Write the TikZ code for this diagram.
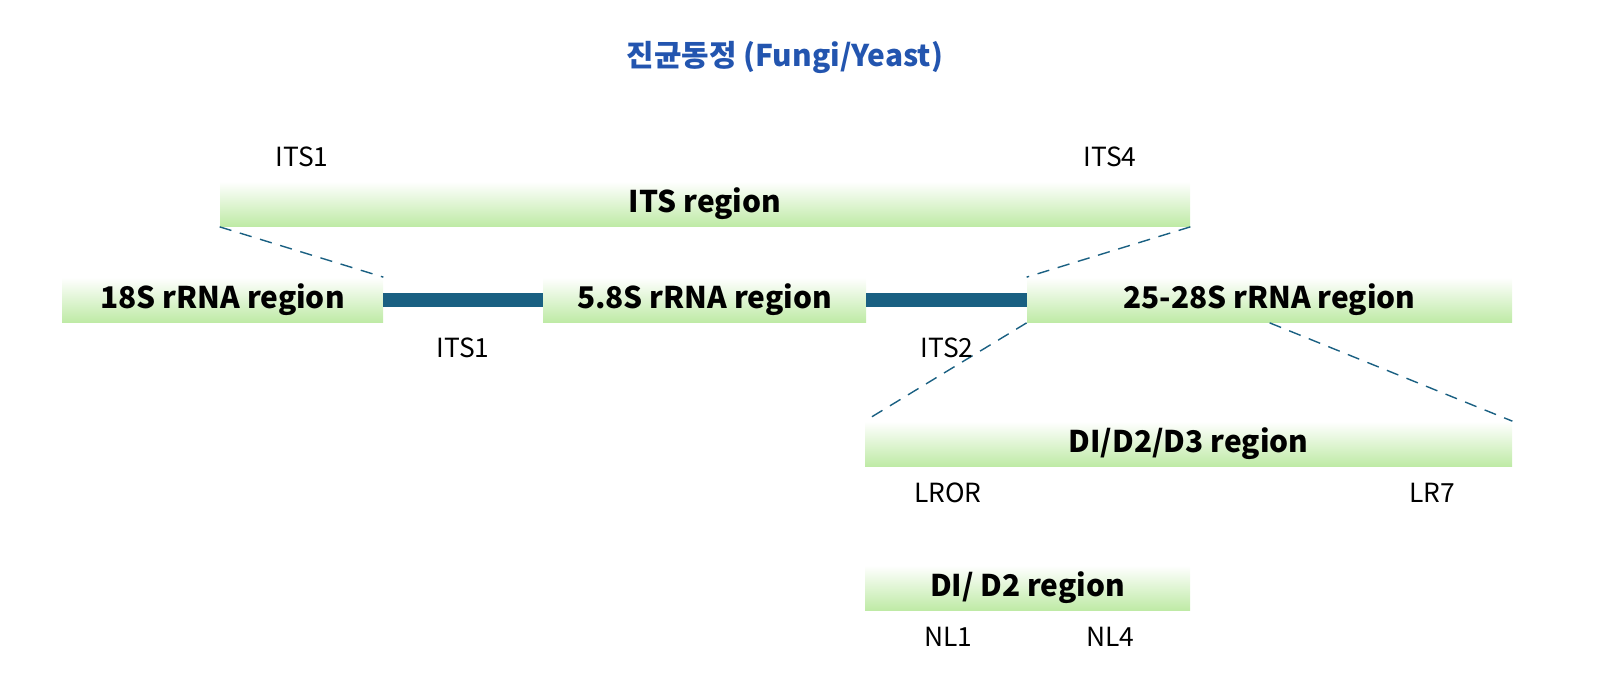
\documentclass[tikz,border=0pt]{standalone}
\usepackage{fontspec}
\setmainfont{Noto Sans CJK KR}
\definecolor{boxgreen}{RGB}{190,234,165}
\definecolor{barblue}{RGB}{26,96,130}
\definecolor{titleblue}{RGB}{35,85,175}
\begin{document}
\begin{tikzpicture}[x=0.02cm, y=-0.02cm]

\tikzstyle{region}=[rectangle, top color=white, bottom color=boxgreen, draw=none, inner sep=0pt, minimum height=45*0.02cm, font=\fontsize{17}{20}\selectfont\bfseries]
\tikzstyle{primer}=[font=\fontsize{15}{18}\selectfont]
\tikzstyle{zoomline}=[dashed, dash pattern=on 7pt off 5pt, thick, barblue]
\tikzstyle{spacer}=[line width=7.5pt, barblue]

\useasboundingbox (0,0) rectangle (1600,700);

\node (title) [font=\fontsize{17}{20}\selectfont\bfseries, text=titleblue] at (785,57) {진균동정 (Fungi/Yeast)};

\node (its) [region, minimum width=970*0.02cm] at (705,204) {ITS region};
\node (r18) [region, minimum width=321*0.02cm] at (222.5,300) {18S rRNA region};
\node (r58) [region, minimum width=323*0.02cm] at (704.5,300) {5.8S rRNA region};
\node (r28) [region, minimum width=485*0.02cm] at (1269.5,300) {25-28S rRNA region};
\node (d123) [region, minimum width=647*0.02cm] at (1188.5,444) {DI/D2/D3 region};
\node (d12) [region, minimum width=325*0.02cm] at (1027.5,588) {DI/ D2 region};

\draw [spacer] (r18.east) -- (r58.west);
\draw [spacer] (r58.east) -- (r28.west);

\draw [zoomline] (its.south west) -- (r18.north east);
\draw [zoomline] (its.south east) -- (r28.north west);
\draw [zoomline] (r28.south west) -- (d123.north west);
\draw [zoomline] ([xshift=243*0.02cm]r28.south west) -- (d123.north east);

\node (p1) [primer] at (302,157) {ITS1};
\node (p4) [primer] at (1110,157) {ITS4};
\node (s1) [primer] at (463,348) {ITS1};
\node (s2) [primer] at (947,348) {ITS2};
\node (lror) [primer] at (948,493) {LROR};
\node (lr7) [primer] at (1432,493) {LR7};
\node (nl1) [primer] at (948,637) {NL1};
\node (nl4) [primer] at (1110,637) {NL4};

\end{tikzpicture}
\end{document}
